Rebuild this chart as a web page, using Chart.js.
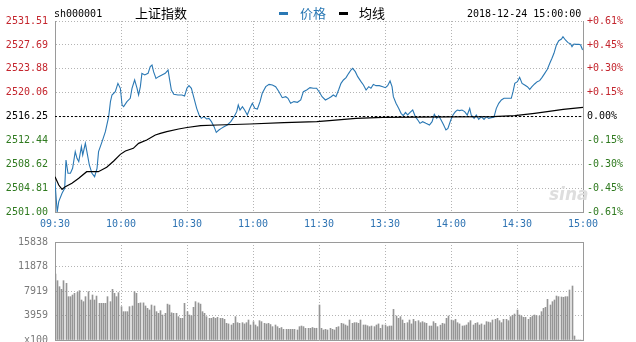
<!DOCTYPE html>
<html><head><meta charset="utf-8">
<script src="https://cdn.jsdelivr.net/npm/chart.js@4"></script>
<style>
html,body{margin:0;padding:0;background:#fff;width:636px;height:342px;overflow:hidden;}
#wrap{position:relative;width:636px;height:342px;}
canvas{position:absolute;left:0;}
.t{position:absolute;white-space:nowrap;line-height:16px;}
.mono{font-family:"DejaVu Sans Mono",monospace;font-size:10px;color:#000;}
.cjk{font-family:"Noto Sans CJK SC",sans-serif;font-size:13px;}
.dash{position:absolute;top:12px;width:9px;height:3px;}
</style></head><body>
<div id="wrap">
<canvas id="main" width="636" height="232" style="top:0"></canvas>
<canvas id="vol" width="636" height="110" style="top:232px"></canvas>
<div class="t mono" style="left:54px;top:6px;">sh000001</div>
<div class="t cjk" style="left:135px;top:5px;color:#000;">上证指数</div>
<div class="dash" style="left:279px;background:#2a78b4;"></div>
<div class="t cjk" style="left:300px;top:5px;color:#2a78b4;">价格</div>
<div class="dash" style="left:339px;background:#000;"></div>
<div class="t cjk" style="left:359px;top:5px;color:#000;">均线</div>
<div class="t mono" style="left:467px;top:6px;">2018-12-24 15:00:00</div>
<div class="t" style="left:549px;top:186px;font-family:'DejaVu Sans',sans-serif;font-style:italic;font-weight:bold;font-size:17px;color:#dedede;">sina</div>
</div>
<script>
// ---- data ----
const xTickPos = [0,30,60,90,120,150,180,210,240];
const xTickLabels = ['09:30','10:00','10:30','11:00','11:30','13:30','14:00','14:30','15:00'];
const priceTicks = [2501.00,2504.81,2508.62,2512.44,2516.25,2520.06,2523.88,2527.69,2531.51];
const priceTickLabels = ['2501.00','2504.81','2508.62','2512.44','2516.25','2520.06','2523.88','2527.69','2531.51'];
const pctTickLabels = ['-0.61%','-0.45%','-0.30%','-0.15%','0.00%','+0.15%','+0.30%','+0.45%','+0.61%'];
const prevClose = 2516.25;
const volTicks = [0,3959,7919,11878,15838];
const volTickLabels = ['x100','3959','7919','11878','15838'];

const priceMin = [0,1,1.7,3.2,4.4,5.0,5.9,7.0,8.0,9.2,10,10.8,12,12.6,13.8,14.5,15.6,16.8,18,19.1,19.8,21.4,22.9,24.4,25.2,25.9,27.4,28.6,29.7,30.5,31.2,32.7,34.2,35,36.2,37.3,38,38.8,39.5,40.8,42.3,43.3,44.1,44.8,45.9,47.1,48.6,50.1,51.4,52,52.9,54,55.9,57.7,58.9,60,60.9,62,63.2,64.4,65.5,66.5,67.7,68.9,70,71.1,72.3,73.3,74.5,75.6,76.8,78.3,79.9,81.4,82.6,83.3,84.1,85.2,86.2,87.4,88.6,89.7,90.8,92,93.2,94.2,95.8,97.3,98.8,100.3,101.8,103.3,104.9,105.9,107.1,108.6,110.2,111.7,112.9,114.4,115.9,117.4,118.9,120.2,121.4,122.9,124.4,125.5,126.5,127.7,128.9,130,131.1,132.3,133.5,134.5,135.3,136.5,137.6,139.1,140.2,141.4,142.6,143.6,144.7,145.9,147.4,149,150.2,151.2,152.3,153.2,153.8,155,156.2,157.3,158.3,159.3,160.3,161.4,162.6,163.8,164.9,165.9,167.1,168.6,170.2,171.4,172.4,173.5,174.4,175.5,176.5,177.7,178.6,179.9,180.9,182,182.9,183.9,185,186.2,187.4,188.5,189.2,190.5,191.5,192.6,193.8,195,196.1,197.1,198.3,199.5,200.6,201.7,202.9,204.1,205.6,207.4,208.2,209,210.2,211.2,212.3,213.5,214.7,215.8,216.8,218,219.2,220.3,221.4,222.6,223.8,224.9,225.9,226.8,227.9,229,230.2,230.9,232,233.2,234.4,235,235.9,236.9,238.2,238.9,239.7,240];
const priceVal = [2505.8,2501.0,2502.65,2503.98,2504.78,2509.31,2507.18,2507.18,2507.98,2510.64,2509.57,2509.04,2511.44,2510.11,2511.97,2510.64,2508.51,2507.18,2506.64,2507.98,2510.64,2512.24,2513.83,2516.23,2518.63,2519.69,2520.22,2521.55,2520.76,2518.09,2517.83,2518.63,2519.16,2520.76,2522.09,2520.76,2519.69,2521.02,2523.15,2522.89,2523.15,2524.22,2524.48,2523.42,2522.35,2522.62,2522.89,2523.15,2523.68,2522.35,2520.49,2519.80,2519.69,2519.69,2519.53,2520.8,2521.18,2520.76,2519.16,2517.56,2516.50,2515.96,2516.23,2515.86,2515.96,2515.43,2514.63,2513.72,2514.10,2514.36,2514.63,2514.90,2515.43,2516.23,2517.03,2518.09,2517.29,2517.83,2517.29,2516.50,2517.56,2518.36,2517.56,2517.45,2518.63,2519.96,2521.02,2521.39,2521.29,2521.02,2520.22,2519.26,2519.42,2519.16,2518.36,2518.63,2518.52,2518.89,2520.22,2520.49,2520.86,2520.76,2520.76,2520.12,2519.42,2518.89,2519.16,2519.42,2519.69,2519.42,2520.49,2521.55,2522.09,2522.46,2523.15,2523.68,2523.95,2523.42,2522.62,2521.82,2521.29,2520.49,2521.02,2520.76,2521.39,2521.18,2521.18,2521.02,2520.86,2521.18,2521.93,2521.02,2519.42,2518.36,2517.56,2516.76,2516.39,2516.92,2516.50,2516.92,2517.29,2516.23,2515.70,2515.16,2515.43,2515.16,2514.90,2515.43,2516.60,2515.96,2516.39,2515.70,2515.00,2514.10,2514.36,2515.70,2516.49,2517.03,2517.29,2517.19,2517.29,2517.03,2516.49,2517.56,2516.49,2515.96,2516.49,2515.80,2516.23,2515.80,2516.23,2515.96,2516.07,2516.12,2517.56,2518.36,2518.89,2519.16,2519.16,2519.16,2520.22,2521.55,2521.82,2522.51,2521.55,2521.29,2521.02,2520.59,2521.02,2521.45,2521.82,2521.98,2522.51,2523.15,2523.79,2524.75,2525.55,2526.35,2527.68,2528.37,2528.63,2529.01,2528.48,2528.05,2527.84,2527.41,2527.84,2527.78,2527.78,2527.68,2526.99,2526.9];

const avgMin = [0,1.7,3.2,4.7,7.7,10.8,14.4,19.7,23.5,26.7,29.7,32,35.6,38,41.7,45.6,47.9,50.8,56.2,60,66.2,73.8,88.6,104,119,124.7,136.8,149,180,199,209,218,227,231,240];
const avgVal = [2506.64,2505.31,2504.62,2505.05,2505.58,2506.38,2507.44,2507.44,2508.14,2509.15,2510.21,2510.74,2511.17,2511.97,2512.50,2513.30,2513.57,2513.83,2514.26,2514.50,2514.79,2514.90,2515.06,2515.27,2515.43,2515.59,2515.96,2516.12,2516.20,2516.23,2516.39,2516.76,2517.19,2517.40,2517.72];

const volume = [
10666,9588,8618,8188,9588,9157,7003,7003,7272,7541,
7700,
7972,6464,6195,7003,7810,6464,7272,6464,7100,5925,
5925,
5925,5925,7003,6195,8188,7541,7003,7650,5387,4579,
4579,
4579,5387,5500,7810,7541,5925,6000,6000,5500,5117,
4850,
5656,5500,4579,4309,4740,4040,4309,5800,5656,4400,
4309,
4309,3771,3501,3501,5925,4579,4040,3900,5280,6195,
6000,
5800,4579,4309,3771,3501,3501,3660,3501,3660,3501,
3501,
3340,2693,2600,2424,2693,3771,2800,2693,2800,2600,
2800,
3232,2424,2963,2424,2155,3124,2963,2693,2600,2693,
2500,
2155,2424,2155,1885,2020,1720,1720,1720,1720,1720,
1720,
1616,2155,2260,2155,1885,1885,1885,2020,
1900,1900,5656,
1885,1616,1720,1616,1885,1720,1616,2050,2155,2693,
2600,
2424,2260,3232,2693,2800,2800,2693,3232,2424,2424,
2300,
2155,2260,2155,2424,2600,1885,2424,2424,2155,2260,
2260,
4950,3880,3501,3771,3232,2693,2800,3232,2600,3340,
3000,
3124,2800,2963,2800,2693,2260,2260,2963,2693,2155,
2400,
2693,2600,3501,3880,3232,3124,3340,2800,2600,2260,
2300,
2424,2800,3124,2424,2693,2800,2424,2600,2424,2963,
2900,
2800,3232,3340,3501,3124,2800,3340,3340,3124,3771,
4000,
4200,4848,4040,3880,3660,3660,3340,3660,3880,4040,
3950,
3880,4579,5117,5280,6570,5656,6195,6464,7110,7003,
6950,
6900,7003,7003,8080,8726,
646,0,0,0,0];

// ---- styles ----
const BLUE = '#2a78b4';
const TIME_BLUE = '#2f74b3';
const RED = '#c4262e';
const GREEN = '#2f7a1f';
const GRID = '#b4b4b4';
const FRAME = '#9a9a9a';
const MONO = {family:'"DejaVu Sans Mono", monospace', size:10};
const tickColors = priceTicks.map(v => v > prevClose ? RED : (v < prevClose ? GREEN : '#000'));

function zeroPad(s){ s.paddingTop=0; s.paddingBottom=0; s.paddingLeft=0; s.paddingRight=0; }

new Chart(document.getElementById('main'), {
  type: 'line',
  data: {
    datasets: [
      {data: [{x:0,y:prevClose},{x:240,y:prevClose}], borderColor:'#000', borderWidth:1, borderDash:[2,2], pointRadius:0},
      {data: avgMin.map((m,i)=>({x:m,y:avgVal[i]})), borderColor:'#000', borderWidth:1.2, pointRadius:0, tension:0},
      {data: priceMin.map((m,i)=>({x:m,y:priceVal[i]})), borderColor:BLUE, borderWidth:1.1, pointRadius:0, tension:0}
    ]
  },
  options: {
    responsive:false, animation:false, devicePixelRatio:1,
    layout:{padding:{top:21,left:0,right:0,bottom:0}},
    plugins:{legend:{display:false}, tooltip:{enabled:false}},
    scales:{
      x:{type:'linear', min:0, max:240,
        afterBuildTicks:s=>{s.ticks = xTickPos.map(v=>({value:v}));},
        afterFit:s=>{s.height=20; zeroPad(s);},
        ticks:{autoSkip:false, maxRotation:0, padding:6, color:TIME_BLUE, font:MONO, callback:(v,i)=>xTickLabels[i]},
        grid:{color:GRID, drawTicks:false},
        border:{display:true, color:FRAME, dash:[1,2]}
      },
      y:{type:'linear', position:'left', min:priceTicks[0], max:priceTicks[8],
        afterBuildTicks:s=>{s.ticks = priceTicks.map(v=>({value:v}));},
        afterFit:s=>{s.width=55; zeroPad(s);},
        ticks:{padding:7, font:MONO, color:c=>tickColors[c.index], callback:(v,i)=>priceTickLabels[i]},
        grid:{color:GRID, drawTicks:false},
        border:{display:true, color:FRAME, dash:[1,2]}
      },
      y2:{type:'linear', position:'right', min:priceTicks[0], max:priceTicks[8],
        afterBuildTicks:s=>{s.ticks = priceTicks.map(v=>({value:v}));},
        afterFit:s=>{s.width=53; zeroPad(s);},
        ticks:{padding:4, font:MONO, color:c=>tickColors[c.index], callback:(v,i)=>pctTickLabels[i]},
        grid:{drawOnChartArea:false, drawTicks:false},
        border:{display:true, color:FRAME}
      }
    }
  }
});

const topLine = {
  id:'topLine',
  afterDraw(chart){
    const a = chart.chartArea, ctx = chart.ctx;
    ctx.save(); ctx.strokeStyle = FRAME; ctx.lineWidth = 1;
    ctx.beginPath(); ctx.moveTo(a.left, Math.round(a.top)+0.5); ctx.lineTo(a.right, Math.round(a.top)+0.5); ctx.stroke();
    ctx.restore();
  }
};
// snap each 1px bar onto a whole pixel column so the bars stay crisp like the original
const snapBars = {
  id:'snapBars',
  beforeDatasetsDraw(chart){
    chart.getDatasetMeta(0).data.forEach(el => { el.x = Math.floor(el.x) + 0.5; });
  }
};

new Chart(document.getElementById('vol'), {
  type: 'bar',
  data: {
    datasets: [{data: volume.map((v,i)=>({x:i,y:v})), backgroundColor:'#959595', borderWidth:0, barThickness:1}]
  },
  options: {
    responsive:false, animation:false, devicePixelRatio:1,
    layout:{padding:{top:10,left:0,right:0,bottom:2}},
    plugins:{legend:{display:false}, tooltip:{enabled:false}},
    scales:{
      x:{type:'linear', min:0, max:240, offset:false,
        afterBuildTicks:s=>{s.ticks = xTickPos.map(v=>({value:v}));},
        afterFit:s=>{s.height=0; zeroPad(s);},
        ticks:{display:false},
        grid:{color:GRID, drawTicks:false, offset:false},
        border:{display:true, color:FRAME, dash:[1,2]}
      },
      y:{type:'linear', position:'left', min:0, max:volTicks[4],
        afterBuildTicks:s=>{s.ticks = volTicks.map(v=>({value:v}));},
        afterFit:s=>{s.width=55; zeroPad(s);},
        ticks:{padding:7, font:MONO, color:'#7a7a7a', callback:(v,i)=>volTickLabels[i]},
        grid:{color:GRID, drawTicks:false},
        border:{display:true, color:FRAME, dash:[1,2]}
      },
      y2:{type:'linear', position:'right', min:0, max:volTicks[4],
        afterFit:s=>{s.width=53; zeroPad(s);},
        ticks:{display:false},
        grid:{drawOnChartArea:false, drawTicks:false},
        border:{display:true, color:FRAME}
      }
    }
  },
  plugins:[topLine, snapBars]
});
</script>
</body></html>
